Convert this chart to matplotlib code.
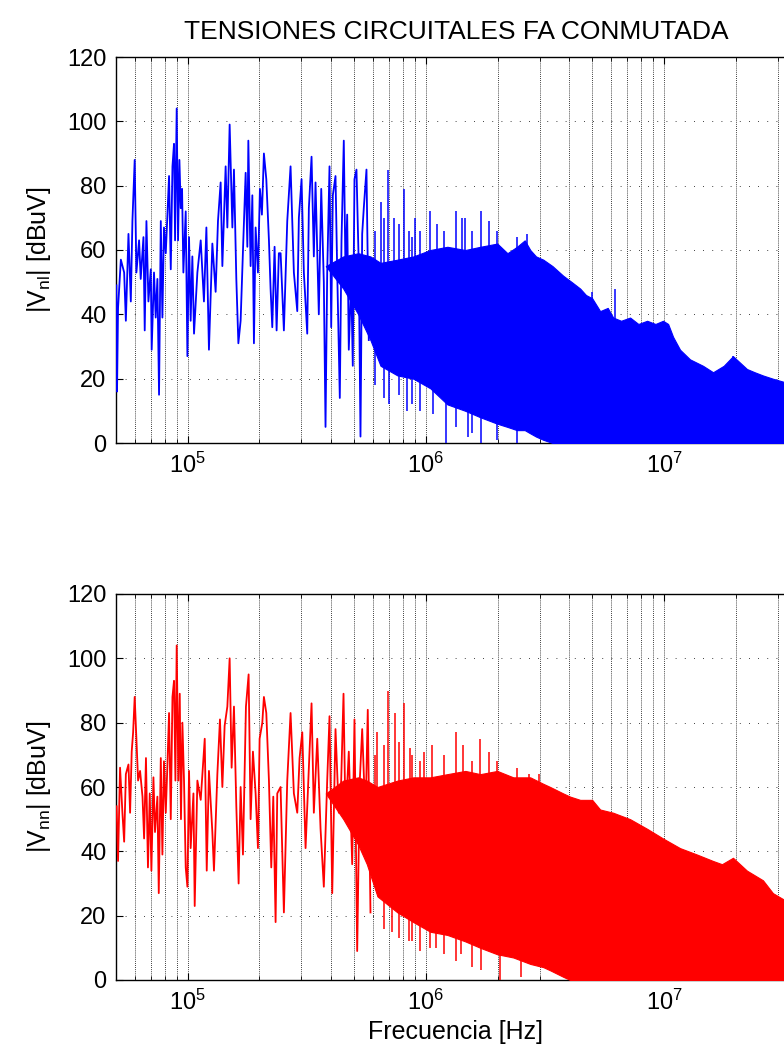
import numpy as np
import matplotlib
matplotlib.use("Agg")
import matplotlib.pyplot as plt
from matplotlib.ticker import LogLocator, NullFormatter

plt.rcParams['font.family'] = ['Liberation Sans', 'DejaVu Sans']
plt.rcParams['mathtext.fontset'] = 'custom'
plt.rcParams['mathtext.rm'] = 'Liberation Sans'
plt.rcParams['mathtext.it'] = 'Liberation Sans'
plt.rcParams['mathtext.default'] = 'regular'

TITLE = "TENSIONES CIRCUITALES FA CONMUTADA"
XLABEL = "Frecuencia [Hz]"
YLABEL_TOP = r"|V$_{nl}$| [dBuV]"
YLABEL_BOT = r"|V$_{nn}$| [dBuV]"
YTICKS = [0, 20, 40, 60, 80, 100, 120]

# ---------------- V_nl (blue) ----------------
# low-frequency resolved part (kHz, dBuV)
nl_lf_khz = [50.2, 50.5, 51.0, 52.4, 54.1, 55.0, 56.4, 57.7, 58.6, 59.9, 60.9, 62.5, 63.5, 65.2,
             66.0, 67.1, 68.4, 70.0, 70.6, 72.2, 73.4, 74.6, 75.8, 77.1, 78.3, 79.5, 80.9, 82.2,
             83.5, 84.9, 86.3, 87.6, 88.5, 89.9, 91.1, 92.3, 93.5, 94.7, 95.9, 98.1, 99.7, 101.3,
             102.9, 104.6, 106.3, 109.8, 113.4, 117.0, 119.8, 122.8, 126.9, 131.0, 134.0, 137.5,
             139.8, 144.3, 146.7, 150.0, 154.0, 156.4, 160.0, 163.2, 166.8, 171.2, 175.1, 178.0,
             179.7, 183.7, 186.8, 189.7, 192.8, 197.2, 201.0, 204.9, 208.9, 213.8, 219.3, 222.8,
             226.5, 231.6, 236.2, 241.4, 245.5, 253.4, 261.8, 270.3, 279.1, 288.4, 292.9, 300.6,
             307.4, 317.6, 322.6, 331.1, 338.5, 344.1, 355.2, 363.6, 372.8, 379.0, 385.2, 393.9,
             400.4, 406.7, 417.4, 424.4, 435.1, 442.3, 452.2, 459.7, 467.3, 474.6, 485.7, 493.3,
             501.4, 511.2, 522.7, 531.4, 540.2, 548.6, 563.1, 575.8]
nl_lf_db = [49, 16, 42, 57, 53, 38, 65, 44, 69, 88, 53, 63, 51, 64,
            35, 69, 44, 54, 29, 53, 39, 51, 15, 69, 39, 67, 59, 71,
            83, 54, 86, 93, 63, 104, 63, 88, 73, 79, 53, 72, 27, 64,
            38, 58, 34, 53, 63, 44, 67, 29, 62, 47, 69, 81,
            55, 86, 67, 99, 67, 85, 51, 31, 38, 63, 84, 61,
            94, 55, 77, 31, 67, 53, 79, 71, 90, 82, 63, 48,
            36, 61, 35, 59, 59, 35, 69, 86, 53, 41, 70, 82,
            53, 34, 73, 89, 58, 81, 40, 79, 50, 5, 53, 86,
            36, 77, 83, 53, 14, 63, 94, 53, 71, 29, 51, 24,
            82, 85, 55, 2, 65, 73, 85, 32]
# dense part: envelope of the unresolved trace (kHz, dBuV)
nl_band_khz = [380, 450, 520, 585, 645, 760, 886, 1044, 1231, 1464, 1693, 1994, 2200, 2412,
               2600, 2743, 2900, 3110, 3400, 3772, 4100, 4444, 4700, 4990, 5390, 5800, 6113,
               6600, 7200, 7800, 8490, 9200, 9900, 10400, 10910, 11670, 12850, 14570, 16060,
               17800, 19470, 22280, 24000, 26010, 28600, 31850, 35770]
nl_band_hi = [55, 58, 59, 58, 56, 57, 58, 60, 61, 60, 61, 62, 59, 61,
              63, 60, 58, 57, 55, 52, 50, 48, 46, 45, 41, 42, 39,
              38, 39, 37, 38, 37, 38, 37, 33, 29, 26, 24, 22,
              24, 27, 23, 22, 21, 20, 19, 18]
nl_band_lo = [55, 48, 40, 32, 24, 21, 20, 17, 12, 10, 8, 6, 5, 4,
              4, 3, 2, 1, 0, 0, 0, 0, 0, 0, 0, 0, 0,
              0, 0, 0, 0, 0, 0, 0, 0, 0, 0, 0, 0,
              0, 0, 0, 0, 0, 0, 0, 0]
nl_spike_khz = [614, 645, 665, 692, 734, 769, 808, 850, 875, 902, 948, 1044, 1114, 1188, 1339,
                1418, 1464, 1562, 1709, 1833, 1994, 2412, 2657, 4990, 6230, 19470]
nl_spike_db = [66, 75, 70, 85, 70, 68, 79, 66, 64, 70, 66, 72, 68, 66, 72,
               70, 70, 66, 72, 69, 66, 64, 65, 47, 48, 27]
nl_dip_khz = [614, 665, 700, 769, 830, 875, 948, 1075, 1215, 1339, 1500, 1562, 1709, 1994, 2412]
nl_dip_db = [18, 14, 12, 15, 10, 12, 10, 9, 0, 5, 2, 3, 0, 1, 0]

# ---------------- V_nn (red) ----------------
nn_lf_khz = [50.3, 51.0, 52.0, 53.2, 54.1, 55.0, 56.4, 57.3, 58.2, 59.0, 59.9, 60.9, 61.9, 63.1,
             64.6, 65.6, 66.8, 68.1, 69.3, 70.4, 71.8, 72.9, 74.6, 75.6, 77.1, 78.3, 79.5, 80.9,
             82.2, 83.5, 84.9, 86.3, 87.6, 88.8, 89.9, 91.4, 92.6, 93.7, 95.0, 96.5, 98.1, 99.7,
             101.3, 102.9, 105.7, 107.0, 109.8, 113.4, 117.9, 120.2, 122.8, 126.9, 128.9, 133.2,
             136.6, 139.8, 142.9, 146.7, 150.0, 152.9, 156.4, 160.0, 163.6, 166.8, 170.6, 175.6,
             180.2, 183.7, 187.9, 192.8, 197.2, 200.4, 205.7, 208.9, 213.8, 219.3, 224.3, 228.7,
             233.9, 237.7, 245.4, 253.4, 261.8, 270.3, 279.1, 288.4, 294.9, 302.7, 312.5, 322.6,
             331.1, 338.5, 349.9, 361.2, 372.8, 385.2, 393.9, 404.4, 417.4, 430.9, 441.0, 451.0,
             459.7, 474.6, 490.5, 501.4, 514.7, 527.8, 540.2, 557.6, 570.2, 585.3]
nn_lf_db = [54, 37, 66, 52, 43, 64, 67, 52, 71, 77, 88, 75, 62, 65,
            57, 44, 69, 35, 58, 34, 63, 46, 57, 27, 69, 39, 68, 52,
            67, 83, 50, 88, 93, 62, 104, 62, 89, 50, 80, 62, 35, 29,
            65, 41, 58, 23, 62, 56, 75, 34, 65, 46, 34, 64,
            81, 60, 79, 85, 100, 66, 85, 54, 30, 60, 39, 85,
            95, 50, 71, 58, 41, 75, 80, 88, 83, 62, 35, 57,
            18, 58, 60, 21, 62, 83, 58, 52, 69, 77, 41, 66,
            86, 52, 75, 47, 29, 62, 82, 27, 78, 52, 62, 89,
            50, 71, 36, 81, 9, 62, 78, 50, 84, 21]
nn_band_khz = [380, 450, 520, 565, 626, 760, 886, 1044, 1231, 1464, 1693, 1994, 2328, 2743, 3110,
               3327, 3772, 4036, 4444, 4990, 5390, 6113, 7200, 8490, 9900, 11670, 13750, 16060,
               17500, 19470, 22280, 26010, 28640, 31850, 35770]
nn_band_hi = [58, 62, 63, 62, 60, 62, 63, 63, 64, 65, 64, 65, 63, 63, 61,
              60, 58, 57, 56, 56, 53, 52, 50, 47, 44, 41, 39, 37,
              36, 38, 34, 31, 27, 25, 23]
nn_band_lo = [58, 50, 42, 36, 26, 21, 18, 15, 14, 12, 10, 8, 7, 5, 4,
              3, 1, 0, 0, 0, 0, 0, 0, 0, 0, 0, 0, 0,
              0, 0, 0, 0, 0, 0, 0]
nn_spike_khz = [614, 624, 665, 692, 745, 769, 808, 861, 875, 948, 979, 1061, 1188, 1339, 1437,
                1562, 1693, 1833, 1994, 2412, 2698, 2972]
nn_spike_db = [70, 77, 73, 90, 83, 74, 86, 72, 70, 68, 71, 73, 70, 77, 73,
               68, 75, 71, 68, 66, 64, 64]
nn_dip_khz = [665, 720, 769, 850, 875, 948, 1044, 1100, 1188, 1339, 1400, 1562, 1709, 2043, 2500]
nn_dip_db = [16, 15, 13, 12, 12, 9, 10, 10, 8, 6, 8, 4, 3, 0, 1]

BLUE = "#0000ff"
RED = "#ff0000"

W, H = 784, 1061
fig = plt.figure(figsize=(W / 100, H / 100), dpi=100)

left = 116 / W
width = (796 - 116) / W
ax_h = 386 / H
ax1 = fig.add_axes([left, 1 - 443 / H, width, ax_h])
ax2 = fig.add_axes([left, 1 - 980 / H, width, ax_h])


def draw(ax, lf_khz, lf_db, bf, bhi, blo, sf, sdb, df, ddb, color):
    lf = np.array(lf_khz) * 1e3
    bf = np.array(bf) * 1e3
    bhi = np.array(bhi, float)
    blo = np.array(blo, float)
    ax.fill_between(bf, blo, bhi, color=color, lw=0.8, zorder=3)
    ax.plot(lf, lf_db, color=color, lw=1.3, zorder=3)
    sf = np.array(sf) * 1e3
    base = np.interp(np.log10(sf), np.log10(bf), bhi)
    ax.vlines(sf, base - 6, sdb, color=color, lw=1.1, zorder=3)
    df = np.array(df) * 1e3
    base_lo = np.interp(np.log10(df), np.log10(bf), blo)
    ax.vlines(df, ddb, base_lo + 6, color=color, lw=1.1, zorder=3)

    ax.set_xscale("log")
    ax.set_xlim(5e4, 3.58e7)
    ax.set_ylim(0, 120)
    ax.set_yticks(YTICKS)
    ax.xaxis.set_major_locator(LogLocator(base=10, numticks=20))
    ax.xaxis.set_minor_locator(LogLocator(base=10, subs=np.arange(2, 10), numticks=50))
    ax.xaxis.set_minor_formatter(NullFormatter())
    ax.set_axisbelow(True)
    ax.grid(True, which="both", axis="x", color="k", lw=0.6, ls=(0, (1, 1.5)))
    ax.grid(True, which="major", axis="y", color="k", lw=0.6, ls=(0, (1, 10)))
    ax.tick_params(axis="both", which="both", direction="in", top=True, right=True,
                   labelsize=17)
    ax.tick_params(which="major", length=5, width=0.8, pad=7)
    ax.tick_params(which="minor", length=3, width=0.6)
    for s in ax.spines.values():
        s.set_linewidth(1.0)


draw(ax1, nl_lf_khz, nl_lf_db, nl_band_khz, nl_band_hi, nl_band_lo,
     nl_spike_khz, nl_spike_db, nl_dip_khz, nl_dip_db, BLUE)
draw(ax2, nn_lf_khz, nn_lf_db, nn_band_khz, nn_band_hi, nn_band_lo,
     nn_spike_khz, nn_spike_db, nn_dip_khz, nn_dip_db, RED)

fig.text((116 + 796) / 2 / W, 1 - 32 / H, TITLE, ha="center", va="center", fontsize=19)
ax1.set_ylabel(YLABEL_TOP, fontsize=18, labelpad=10)
ax2.set_ylabel(YLABEL_BOT, fontsize=18, labelpad=10)
ax2.set_xlabel(XLABEL, fontsize=18, labelpad=4)

fig.savefig("out.png", dpi=100)
